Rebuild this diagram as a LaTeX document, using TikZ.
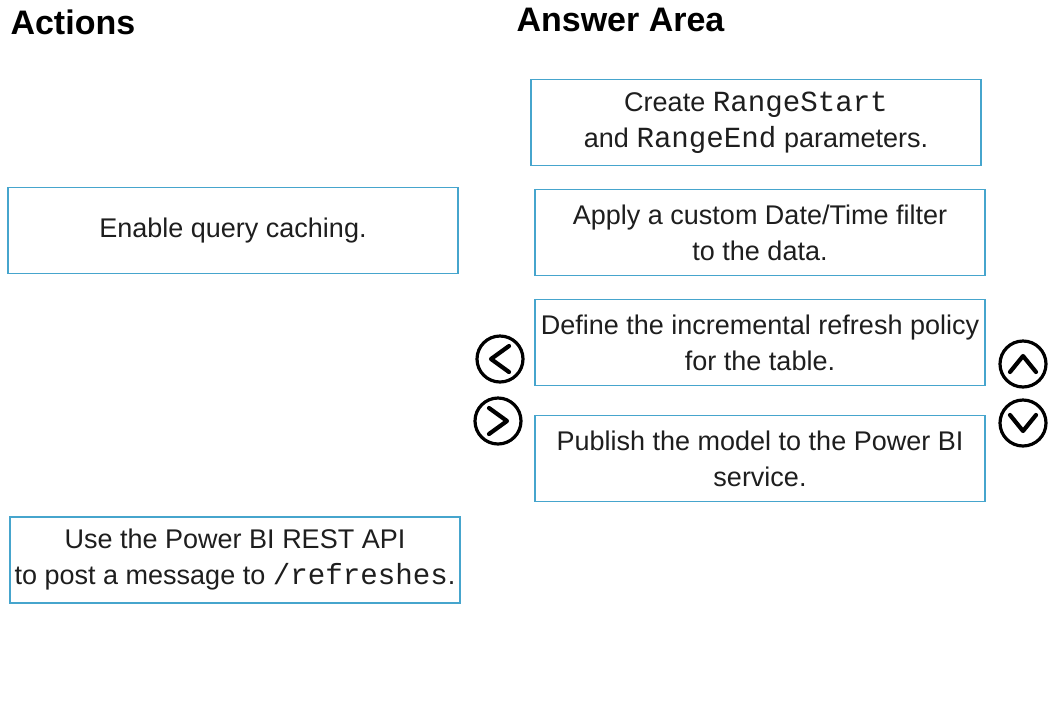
\documentclass[tikz,border=0pt]{standalone}
\usepackage{fontspec}
\setmainfont{Liberation Sans}
\setmonofont[Scale=1.08]{Liberation Mono}
\definecolor{boxblue}{RGB}{70,165,205}
\definecolor{txt}{RGB}{30,30,30}
\tikzset{
  card/.style={draw=boxblue, line width=1.8pt, fill=white, minimum width=450pt, minimum height=86pt, align=center, text=txt, font=\fontsize{27}{36}\selectfont, inner sep=0pt},
  head/.style={anchor=base west, font=\fontsize{34}{40}\selectfont\bfseries, text=black},
  btn/.style={draw=black, line width=3.2pt, circle, minimum size=46pt, inner sep=0pt},
  chev/.style={line width=4.2pt, line cap=round, line join=round}
}
\begin{document}
\begin{tikzpicture}[x=1pt,y=-1pt]
\useasboundingbox (0,0) rectangle (1057,716);
\fill[white] (0,0) rectangle (1057,716);
\node[head] (hact) at (7,34) {Actions};
\node[head] (hans) at (513,31) {Answer Area};
% answer area
\node[card] (a1) at (756,122.5) {Create \texttt{RangeStart}\\and \texttt{RangeEnd} parameters.};
\node[card] (a2) at (760,232.5) {Apply a custom Date/Time filter\\to the data.};
\node[card] (a3) at (760,342.5) {Define the incremental refresh policy\\for the table.};
\node[card] (a4) at (760,458.5) {Publish the model to the Power BI\\service.};
% actions
\node[card] (l1) at (233,230.5) {Enable query caching.};
\node[card] (l2) at (235,560) {Use the Power BI REST API\\to post a message to \texttt{/refreshes}.};
% buttons
\node[btn] (bl) at (500,359) {};
\node[btn] (br) at (498,421) {};
\node[btn] (bu) at (1023,364) {};
\node[btn] (bd) at (1023,423) {};
\draw[chev] ([shift={(9,-13)}]bl.center) -- ([shift={(-9,0)}]bl.center) -- ([shift={(9,13)}]bl.center);
\draw[chev] ([shift={(-9,-13)}]br.center) -- ([shift={(9,0)}]br.center) -- ([shift={(-9,13)}]br.center);
\draw[chev] ([shift={(-13,8)}]bu.center) -- ([shift={(0,-8)}]bu.center) -- ([shift={(13,8)}]bu.center);
\draw[chev] ([shift={(-13,-8)}]bd.center) -- ([shift={(0,8)}]bd.center) -- ([shift={(13,-8)}]bd.center);
\end{tikzpicture}
\end{document}
